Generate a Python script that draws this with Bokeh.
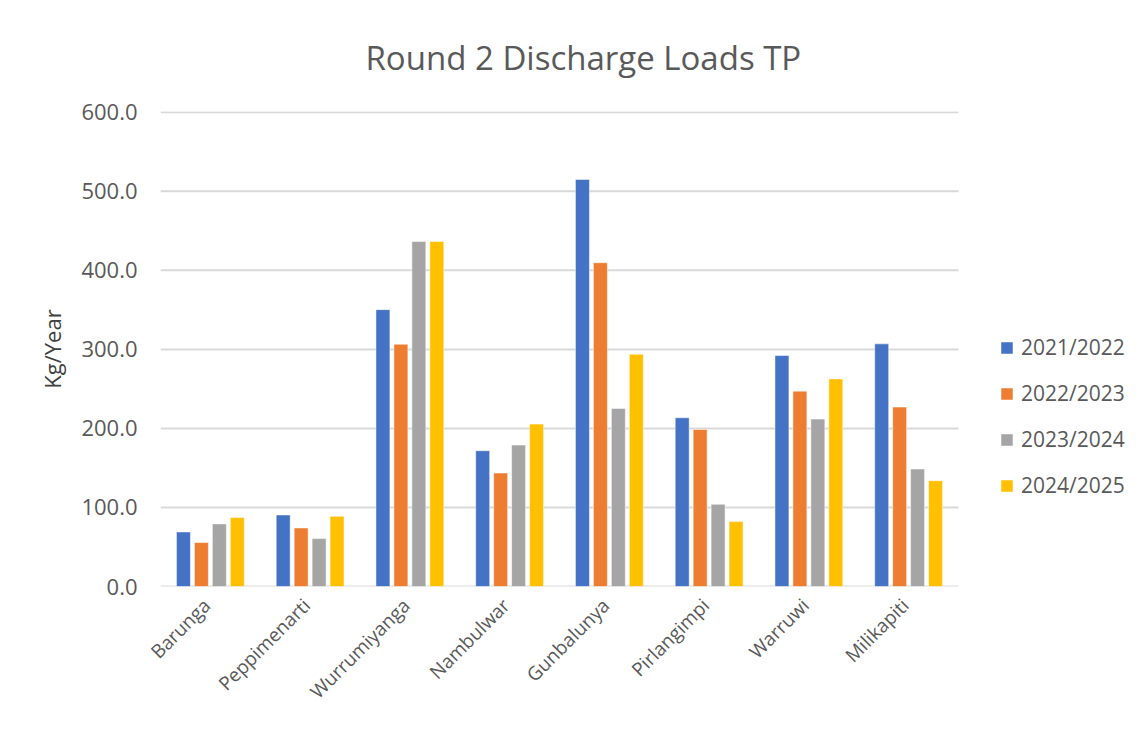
import math
from bokeh.plotting import figure
from bokeh.models import Range1d, Legend, LegendItem, NumeralTickFormatter, FixedTicker
from bokeh.embed import file_html
from bokeh.resources import INLINE

# ---- data ----
sites = ["Barunga", "Peppimenarti", "Wurrumiyanga", "Nambulwar",
         "Gunbalunya", "Pirlangimpi", "Warruwi", "Milikapiti"]
years = ["2021/2022", "2022/2023", "2023/2024", "2024/2025"]
y2021_2022 = [69.0, 90.5, 350.3, 171.8, 515.0, 213.5, 292.2, 307.0]
y2022_2023 = [55.6, 74.1, 306.5, 143.6, 409.7, 198.7, 247.2, 227.0]
y2023_2024 = [79.2, 60.6, 436.6, 178.9, 225.3, 104.0, 211.8, 148.6]
y2024_2025 = [87.2, 88.8, 436.6, 205.5, 293.9, 82.1, 262.7, 133.9]
y_ticks = [0, 100, 200, 300, 400, 500, 600]

colors = ["#4472C4", "#ED7D31", "#A5A5A5", "#FFC000"]
series = [y2021_2022, y2022_2023, y2023_2024, y2024_2025]

FONT = "Open Sans"
TXT = "#595959"

W = 1129
LEFT, TOP = 160, 111
FRAME_W, FRAME_H = W - LEFT, 475
GRID_RIGHT = 958
n = len(sites)
xmax = n * FRAME_W / (GRID_RIGHT - LEFT)   # frame extends under the legend

p = figure(x_range=Range1d(0, xmax), y_range=Range1d(0, 601),
           frame_width=FRAME_W, frame_height=FRAME_H,
           output_backend="svg", toolbar_location=None,
           min_border_left=LEFT, min_border_right=0, min_border_top=TOP, min_border_bottom=10)

p.outline_line_color = None
p.background_fill_color = "white"
p.border_fill_color = "white"
p.xgrid.grid_line_color = None
p.ygrid.grid_line_color = None

# horizontal gridlines only across the category area
p.segment(x0=[0] * len(y_ticks), x1=[n] * len(y_ticks), y0=y_ticks, y1=y_ticks,
          line_color="#D9D9D9", line_width=2)

centers = [i + 0.5 for i in range(n)]
offsets = [-0.27, -0.09, 0.09, 0.27]
renderers = []
for vals, off, col in zip(series, offsets, colors):
    r = p.vbar(x=[c + off for c in centers], top=vals, width=0.14,
               fill_color=col, line_color="white", line_width=0.5)
    renderers.append(r)

# axes
p.yaxis.ticker = FixedTicker(ticks=y_ticks)
p.yaxis.formatter = NumeralTickFormatter(format="0.0")
p.yaxis.axis_line_color = None
p.yaxis.major_tick_line_color = None
p.yaxis.minor_tick_line_color = None
p.yaxis.major_label_text_font = FONT
p.yaxis.major_label_text_font_size = "22px"
p.yaxis.major_label_text_color = TXT
p.yaxis.major_label_standoff = 17
p.yaxis.axis_label = "Kg/Year"
p.yaxis.axis_label_text_font = FONT
p.yaxis.axis_label_text_font_style = "normal"
p.yaxis.axis_label_text_font_size = "22px"
p.yaxis.axis_label_text_color = "#404040"
p.yaxis.axis_label_standoff = 11

p.xaxis.ticker = FixedTicker(ticks=centers)
p.xaxis.major_label_overrides = {c: s + "\u00a0" for c, s in zip(centers, sites)}
p.xaxis.axis_line_color = None
p.xaxis.major_tick_line_color = None
p.xaxis.minor_tick_line_color = None
p.xaxis.major_label_orientation = math.pi / 4
p.xaxis.major_label_text_font = FONT
p.xaxis.major_label_text_font_size = "19px"
p.xaxis.major_label_text_color = TXT
p.xaxis.major_label_standoff = 6

# title
p.title.text = "Round 2 Discharge Loads TP"
p.title.align = "left"
p.title.offset = 205
p.title.text_font = FONT
p.title.text_font_style = "normal"
p.title.text_font_size = "33px"
p.title.text_color = TXT
p.title.standoff = 63

legend = Legend(items=[LegendItem(label=y, renderers=[r]) for y, r in zip(years, renderers)],
                location=(839, 87), orientation="vertical",
                label_text_font=FONT, label_text_font_size="21px", label_text_color=TXT,
                glyph_width=15, glyph_height=15, label_height=20, spacing=18,
                label_standoff=7, padding=0, margin=0,
                border_line_color=None, background_fill_alpha=0)
p.add_layout(legend, "center")

open("out.html", "w").write(file_html(p, INLINE))
